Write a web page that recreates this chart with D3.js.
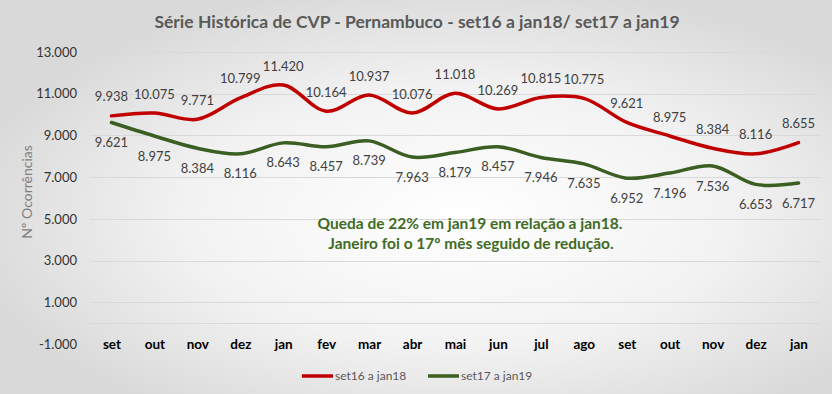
<!DOCTYPE html>
<html>
<head>
<meta charset="utf-8">
<script src="https://cdn.jsdelivr.net/npm/d3@7"></script>
<style>
  body { margin: 0; }
  svg { display: block; font-family: Lato, "Open Sans", sans-serif; }
</style>
</head>
<body>
<div id="chart"></div>
<script>
// data
var months = ["set", "out", "nov", "dez", "jan", "fev", "mar", "abr", "mai", "jun", "jul", "ago", "set", "out", "nov", "dez", "jan"];
var serieA = [9938, 10075, 9771, 10799, 11420, 10164, 10937, 10076, 11018, 10269, 10815, 10775, 9621, 8975, 8384, 8116, 8655];
var serieB = [9621, 8975, 8384, 8116, 8643, 8457, 8739, 7963, 8179, 8457, 7946, 7635, 6952, 7196, 7536, 6653, 6717];
var seriesNames = ["set16 a jan18", "set17 a jan19"];
var seriesColors = ["#c00000", "#3b5e23"];
var yTicks = [-1000, 1000, 3000, 5000, 7000, 9000, 11000, 13000];

var W = 832, H = 394;
var plotLeft = 90, plotRight = 820, plotTop = 52, plotBottom = 344;

var svg = d3.select("#chart").append("svg")
    .attr("width", W)
    .attr("height", H);

// background gradient
var defs = svg.append("defs");
var grad = defs.append("radialGradient")
    .attr("id", "bg")
    .attr("cx", "55%").attr("cy", "55%").attr("r", "60%");
grad.append("stop").attr("offset", "0%").attr("stop-color", "#ffffff");
grad.append("stop").attr("offset", "55%").attr("stop-color", "#f2f2f2");
grad.append("stop").attr("offset", "100%").attr("stop-color", "#d9d9d9");
svg.append("rect")
    .attr("width", W).attr("height", H)
    .attr("fill", "url(#bg)");

var locale = d3.formatLocale({ decimal: ",", thousands: ".", grouping: [3], currency: ["", ""], minus: "-" });
var fmt = locale.format(",");

var x = d3.scalePoint()
    .domain(d3.range(months.length))
    .range([plotLeft, plotRight])
    .padding(0.5);

var y = d3.scaleLinear()
    .domain([-1000, 13000])
    .range([plotBottom, plotTop]);

// gridlines
svg.append("g")
    .selectAll("line")
    .data(yTicks.filter(function (d) { return d > -1000; }).concat([0]))
    .enter()
    .append("line")
    .attr("x1", plotLeft).attr("x2", plotRight)
    .attr("y1", function (d) { return Math.round(y(d)) + 0.5; })
    .attr("y2", function (d) { return Math.round(y(d)) + 0.5; })
    .attr("stroke", "#d9d9d9")
    .attr("stroke-width", 1);

// title
svg.append("text")
    .attr("x", 417).attr("y", 28)
    .attr("text-anchor", "middle")
    .attr("font-size", 17.5)
    .attr("font-weight", "bold")
    .attr("fill", "#595959")
    .text("Série Histórica de CVP - Pernambuco - set16 a jan18/ set17 a jan19");

// Y axis
var yAxis = svg.append("g")
    .attr("transform", "translate(" + (plotLeft - 13) + ",0)")
    .call(d3.axisLeft(y).tickValues(yTicks).tickFormat(fmt).tickSize(0).tickPadding(0));
yAxis.select(".domain").remove();
yAxis.selectAll("text")
    .attr("font-family", "Lato, sans-serif")
    .attr("font-size", 13)
    .attr("fill", "#333333");

svg.append("text")
    .attr("transform", "translate(32,192) rotate(-90)")
    .attr("text-anchor", "middle")
    .attr("font-size", 14)
    .attr("fill", "#7f7f7f")
    .text("Nº Ocorrências");

// X axis
var xAxis = svg.append("g")
    .attr("transform", "translate(0," + (plotBottom - 5) + ")")
    .call(d3.axisBottom(x).tickFormat(function (i) { return months[i]; }).tickSize(0).tickPadding(0));
xAxis.select(".domain").remove();
xAxis.selectAll("text")
    .attr("font-family", "Lato, sans-serif")
    .attr("font-size", 13.5)
    .attr("font-weight", "bold")
    .attr("fill", "#000000");

// lines
var line = d3.line()
    .x(function (d, i) { return x(i); })
    .y(function (d) { return y(d); })
    .curve(d3.curveCatmullRom.alpha(0.5));

[serieA, serieB].forEach(function (data, s) {
    svg.append("path")
        .datum(data)
        .attr("fill", "none")
        .attr("stroke", seriesColors[s])
        .attr("stroke-width", 3.5)
        .attr("stroke-linecap", "round")
        .attr("d", line);

    svg.append("g")
        .selectAll("text")
        .data(data)
        .enter()
        .append("text")
        .attr("x", function (d, i) { return x(i); })
        .attr("y", function (d) { return y(d) + (s === 0 ? -19 : 20); })
        .attr("dy", "0.35em")
        .attr("text-anchor", "middle")
        .attr("font-size", 13)
        .attr("fill", "#404040")
        .text(function (d) { return fmt(d); });
});

// annotation
svg.append("text")
    .attr("x", 470).attr("y", 229)
    .attr("text-anchor", "middle")
    .attr("font-size", 15.5)
    .attr("font-weight", "bold")
    .attr("fill", "#3f6b24")
    .text("Queda de 22% em jan19 em relação a jan18.");
svg.append("text")
    .attr("x", 471).attr("y", 249)
    .attr("text-anchor", "middle")
    .attr("font-size", 15.5)
    .attr("font-weight", "bold")
    .attr("fill", "#3f6b24")
    .text("Janeiro foi o 17º mês seguido de redução.");

// legend
var legendX = [302, 428];
var legend = svg.append("g")
    .selectAll("g")
    .data(seriesNames)
    .enter()
    .append("g")
    .attr("transform", function (d, i) { return "translate(" + legendX[i] + ",376)"; });
legend.append("line")
    .attr("x1", 0).attr("x2", 31)
    .attr("stroke", function (d, i) { return seriesColors[i]; })
    .attr("stroke-width", 3.5);
legend.append("text")
    .attr("x", 33)
    .attr("dy", "0.35em")
    .attr("font-size", 12)
    .attr("fill", "#595959")
    .text(function (d) { return d; });
</script>
</body>
</html>
